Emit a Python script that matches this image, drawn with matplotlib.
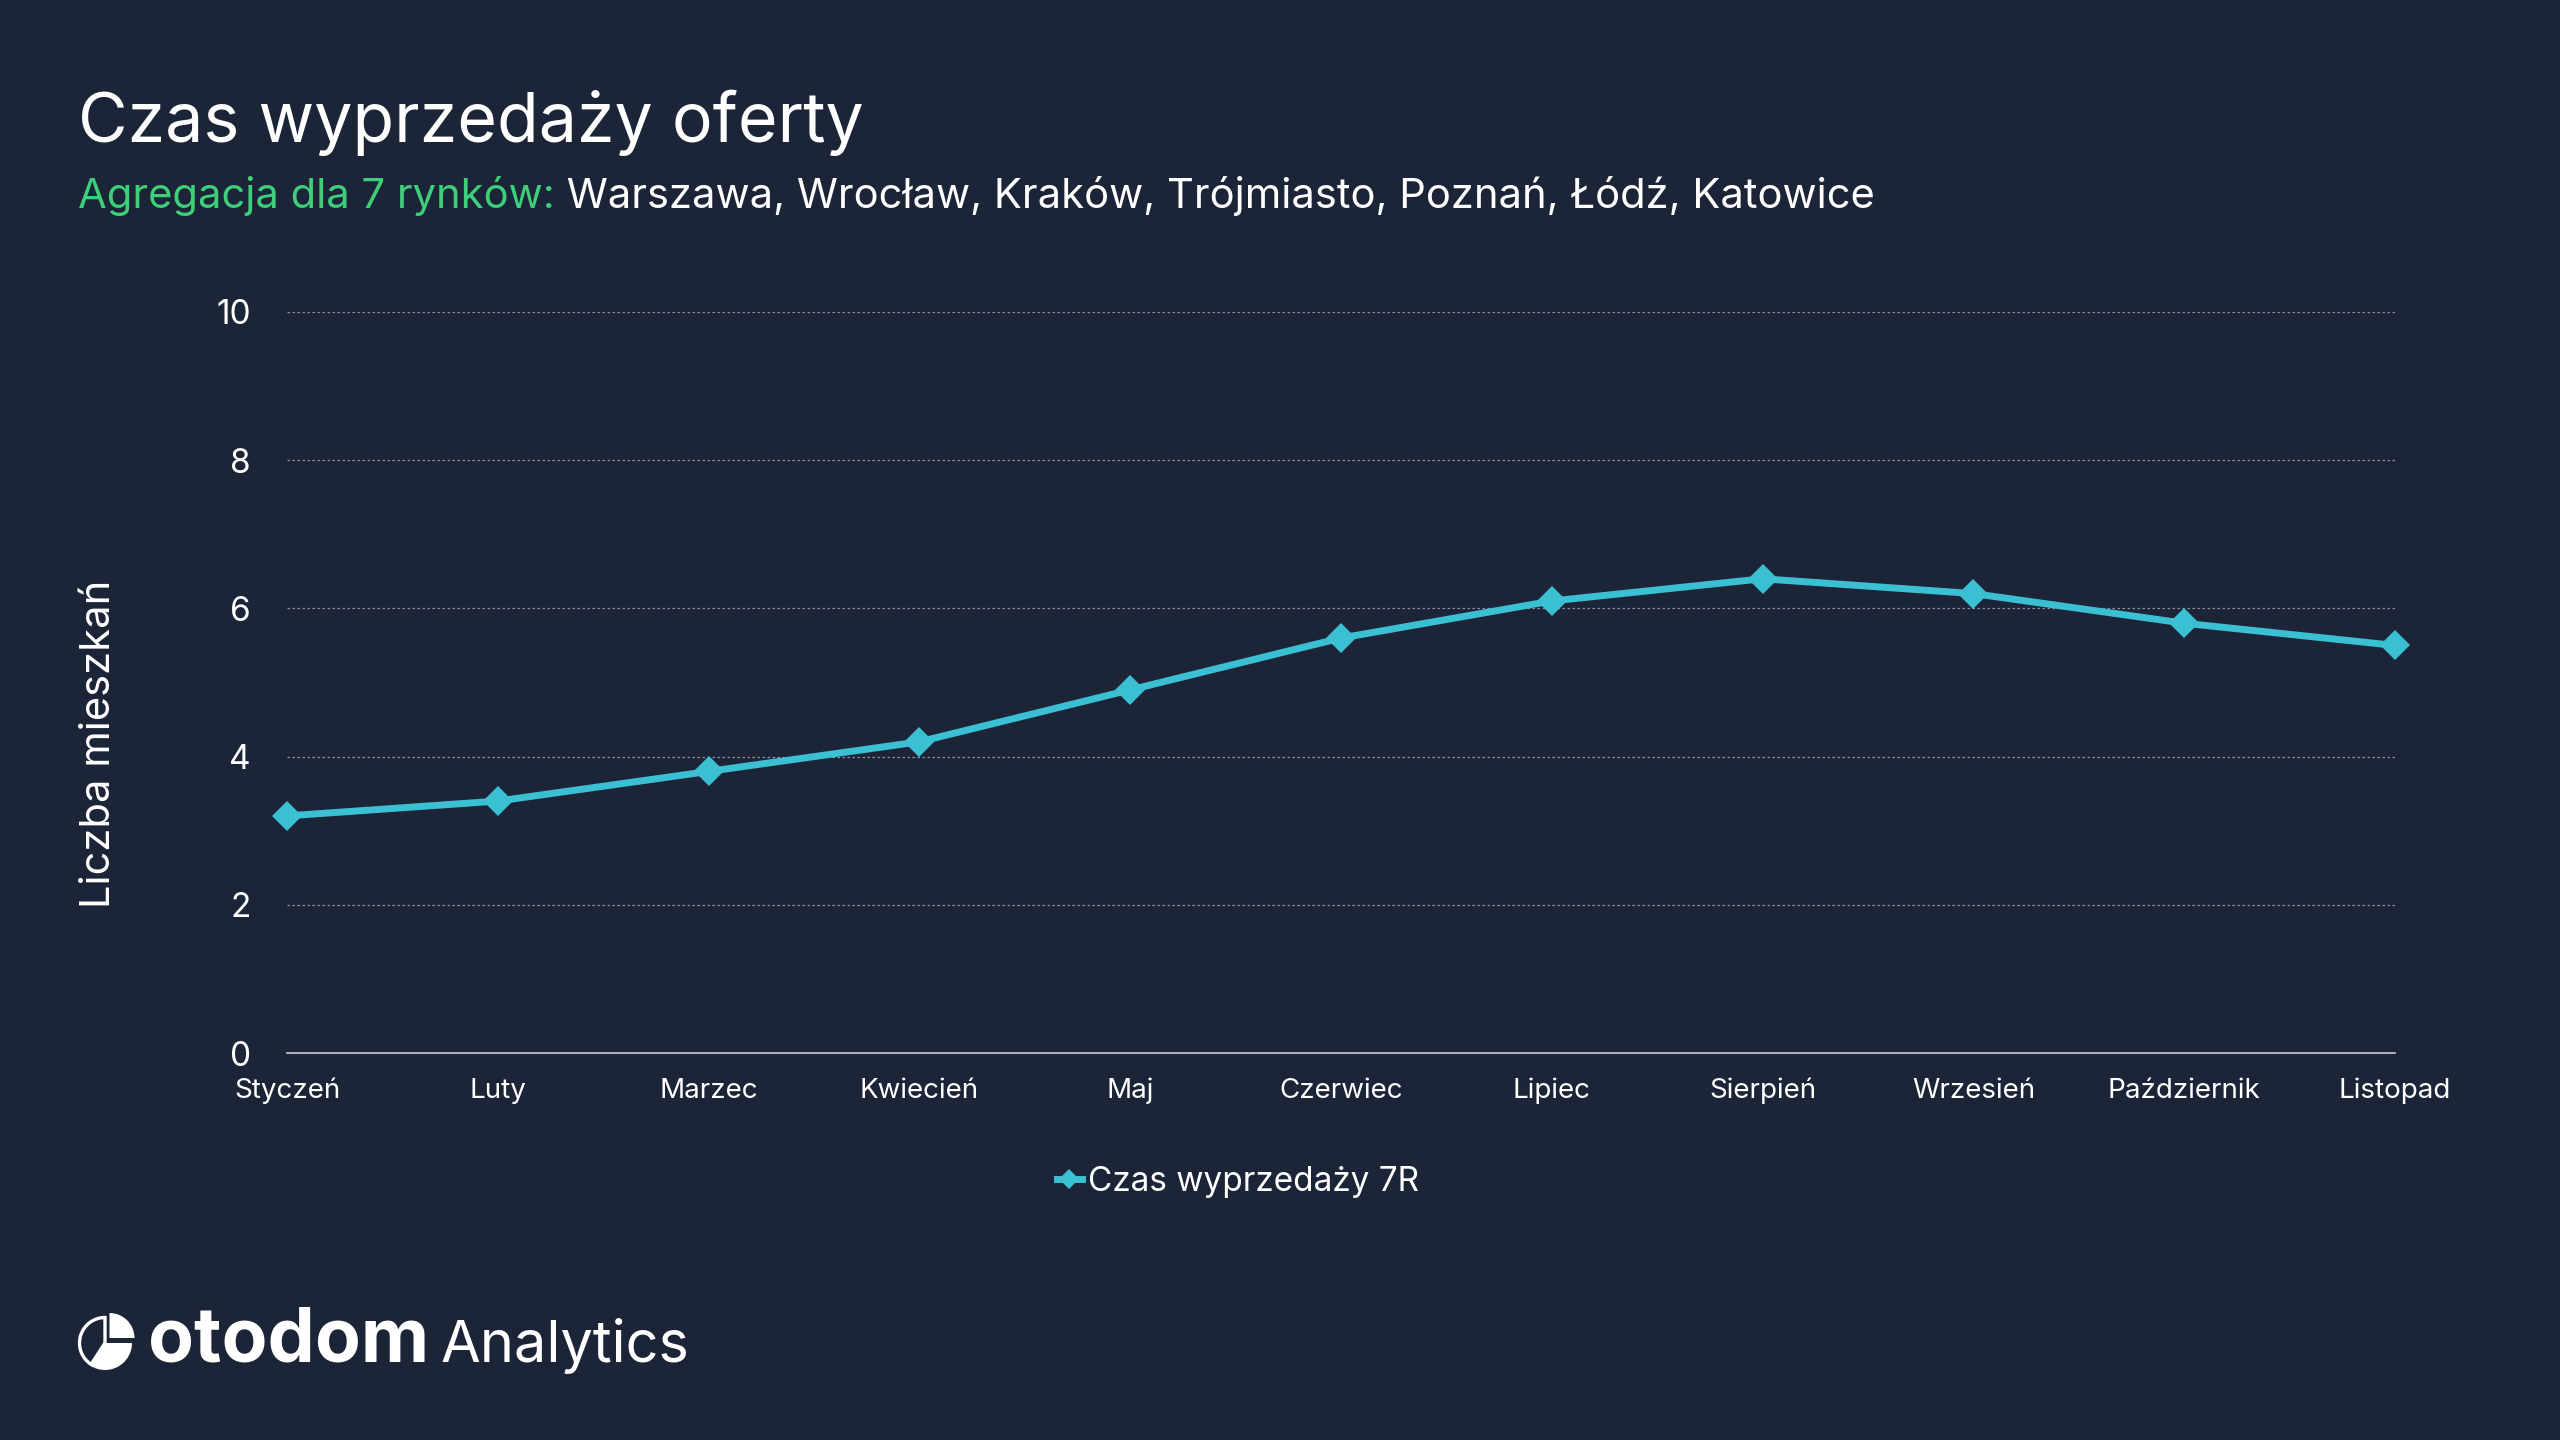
import matplotlib.pyplot as plt
from matplotlib.lines import Line2D
from matplotlib.patches import Wedge
import numpy as np

plt.rcParams['font.family'] = ['Inter', 'DejaVu Sans']

# data
months = ["Styczeń", "Luty", "Marzec", "Kwiecień", "Maj", "Czerwiec",
          "Lipiec", "Sierpień", "Wrzesień", "Październik", "Listopad"]
sell_time = [3.2, 3.4, 3.8, 4.2, 4.9, 5.6, 6.1, 6.4, 6.2, 5.8, 5.5]
y_ticks = [0, 2, 4, 6, 8, 10]

title = "Czas wyprzedaży oferty"
subtitle_green = "Agregacja dla 7 rynków:"
subtitle_white = " Warszawa, Wrocław, Kraków, Trójmiasto, Poznań, Łódź, Katowice"
series_name = "Czas wyprzedaży 7R"

bg = "#1c2437"
line_col = "#3bbfd3"
green = "#3ecf7a"
white = "#ffffff"
grid_col = "#8a909c"

W, H = 2560, 1440
fig = plt.figure(figsize=(25.6, 14.4), dpi=100, facecolor=bg)

ax = fig.add_axes([287 / W, 1 - 1053 / H, (2395 - 287) / W, (1053 - 312) / H])
ax.set_facecolor(bg)

x = np.arange(len(months))
ax.plot(x, sell_time, color=line_col, lw=5, marker='D', markersize=15,
        markeredgewidth=0, clip_on=False, zorder=3)

ax.set_xlim(0, len(months) - 1)
ax.set_ylim(0, 10)
ax.set_yticks(y_ticks)
ax.set_xticks(x)
ax.set_xticklabels(months)
ax.tick_params(axis='x', length=0, pad=18, labelsize=20, labelcolor=white)
ax.tick_params(axis='y', length=0, pad=26, labelsize=24, labelcolor=white)

for s in ['top', 'right', 'left']:
    ax.spines[s].set_visible(False)
ax.spines['bottom'].set_color("#c9ccd3")
ax.spines['bottom'].set_linewidth(1.2)

for v in y_ticks[1:]:
    ax.axhline(v, color=grid_col, lw=0.9, ls=(0, (2, 2)), zorder=1)

# titles
fig.text(78 / W, 1 - 142 / H, title, color=white, fontsize=49, va='baseline', ha='left')
t1 = fig.text(78 / W, 1 - 208 / H, subtitle_green, color=green, fontsize=30,
              va='baseline', ha='left')
fig.canvas.draw()
r = fig.canvas.get_renderer()
bb = t1.get_window_extent(r)
fig.text(bb.x1 / W, 1 - 208 / H, subtitle_white, color=white, fontsize=30,
         va='baseline', ha='left')

fig.text(99 / W, 1 - 744 / H, "Liczba mieszkań", color=white, fontsize=30,
         rotation=90, va='center', ha='center')

# legend
handle = Line2D([], [], color=line_col, lw=5, marker='D', markersize=10, markeredgewidth=0)
leg = fig.legend([handle], [series_name], loc='center', bbox_to_anchor=(1238 / W, 1 - 1182 / H),
                 frameon=False, fontsize=24, handlelength=0.75, handletextpad=0.2,
                 labelcolor=white)

# otodom Analytics logo
lax = fig.add_axes([70 / W, 60 / H, 80 / W, 80 / H])
lax.set_xlim(0, 80)
lax.set_ylim(0, 80)
lax.axis('off')
lax.add_patch(Wedge((35, 37), 25.5, 90, 237, width=None, fill=False, ec=white, lw=2.4))
lax.add_patch(Wedge((35, 37), 27, 237, 360, color=white, lw=0))
lax.add_patch(Wedge((39.5, 42), 25, 0, 90, color=white, lw=0))

fig.text(148 / W, 1 - 1362 / H, "otodom", color=white, fontsize=54, fontweight='bold',
         va='baseline', ha='left')
fig.text(441 / W, 1 - 1362 / H, "Analytics", color=white, fontsize=41.5,
         va='baseline', ha='left')

fig.savefig("out.png", dpi=100, facecolor=bg)
